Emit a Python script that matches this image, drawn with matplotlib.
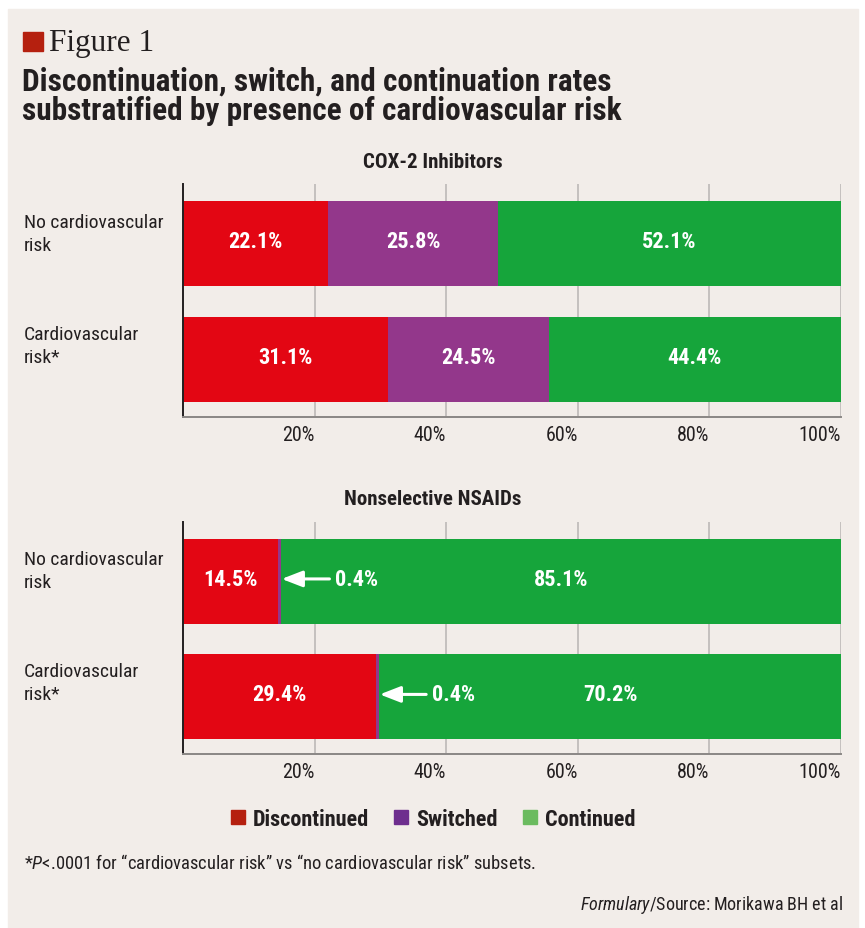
import matplotlib
matplotlib.use('Agg')
import matplotlib.pyplot as plt
from matplotlib.patches import Rectangle, Patch
from matplotlib import transforms

FONT = 'Roboto Condensed'
plt.rcParams['font.family'] = [FONT, 'DejaVu Sans']
plt.rcParams['mathtext.fontset'] = 'custom'
plt.rcParams['mathtext.rm'] = FONT
plt.rcParams['mathtext.it'] = FONT + ':italic'

# ---- data ----
groups = ['No cardiovascular\nrisk', 'Cardiovascular\nrisk*']
series = ['Discontinued', 'Switched', 'Continued']
cox2_disc = [22.1, 31.1]
cox2_sw = [25.8, 24.5]
cox2_cont = [52.1, 44.4]
nsaid_disc = [14.5, 29.4]
nsaid_sw = [0.4, 0.4]
nsaid_cont = [85.1, 70.2]
ticks = [20, 40, 60, 80, 100]

bar_colors = ['#e30613', '#93378b', '#16a53b']
legend_colors = ['#b5200f', '#6e2e8e', '#6bbb5f']
bg = '#f2ede9'
ink = '#231f20'

W, H = 865, 929
fig = plt.figure(figsize=(W / 100, H / 100), dpi=100, facecolor='white')
fig.patches.append(Rectangle((8 / W, 0), 850 / W, (H - 10) / H,
                             transform=fig.transFigure, color=bg, zorder=-10))


def px(x0, y_top, x1, y_bot):
    return [x0 / W, 1 - y_bot / H, (x1 - x0) / W, (y_bot - y_top) / H]


def draw_panel(rect, disc, sw, cont, title, arrow_text_x=None):
    ax = fig.add_axes(rect)
    ax.set_facecolor('none')
    y = [0, 1]
    h = 0.733
    left = [0, 0]
    segs = [disc, sw, cont]
    for vals, c in zip(segs, bar_colors):
        ax.barh(y, vals, left=left, height=h, color=c, zorder=2)
        left = [a + b for a, b in zip(left, vals)]
    # labels inside the segments, arrow for tiny ones
    for i in y:
        start = 0
        for k, vals in enumerate(segs):
            v = vals[i]
            if v >= 5:
                ax.text(start + v / 2, i - 0.02, f'{v:.1f}%', ha='center', va='center',
                        color='white', fontsize=16, fontweight='bold', zorder=3)
            elif arrow_text_x is not None:
                ax.annotate(f'{v:.1f}%', xy=(start + v / 2 + 0.3, i - 0.02),
                            xytext=(arrow_text_x[i], i - 0.02), ha='left', va='center',
                            color='white', fontsize=16, fontweight='bold', zorder=3,
                            arrowprops=dict(arrowstyle='-|>,head_length=0.9,head_width=0.35',
                                            color='white', lw=2.2, relpos=(0, 0.5),
                                            shrinkA=2, shrinkB=0, mutation_scale=14))
            start += v
    ax.set_xlim(0, 100)
    ax.set_ylim(1.496, -0.513)
    ax.set_xticks(ticks)
    ax.set_xticklabels([f'{t}%' for t in ticks], ha='right', fontsize=14.5, color=ink)
    ax.tick_params(axis='x', length=0, pad=6)
    ax.set_yticks([])
    for t in ticks:
        ax.axvline(t, color='#bcb9b7', lw=1.2, zorder=1)
    for s in ['top', 'right']:
        ax.spines[s].set_visible(False)
    ax.spines['left'].set_color(ink)
    ax.spines['left'].set_linewidth(1.4)
    ax.spines['bottom'].set_color('#8a8785')
    ax.spines['bottom'].set_linewidth(1.4)
    tr = transforms.blended_transform_factory(fig.transFigure, ax.transData)
    for i, g, off in zip(y, groups, [0.09, 0.12]):
        ax.text(24 / W, i - off, g, transform=tr, ha='left', va='center', fontsize=14,
                color=ink, linespacing=1.35)
    fig.text(433 / W, 1 - (title[1]) / H, title[0], ha='center', va='center',
             fontsize=15, fontweight='bold', color=ink)
    return ax


draw_panel(px(183, 185, 841, 418), cox2_disc, cox2_sw, cox2_cont, ('COX-2 Inhibitors', 163))
draw_panel(px(183, 523, 841, 755), nsaid_disc, nsaid_sw, nsaid_cont, ('Nonselective NSAIDs', 500),
           arrow_text_x=[23.1, 37.8])

# header
fig.patches.append(Rectangle((23 / W, 1 - 52 / H), 20 / W, 19 / H,
                             transform=fig.transFigure, color='#b5200f'))
fig.text(49 / W, 1 - 43 / H, 'Figure 1', family='Liberation Serif', fontsize=22.5,
         color=ink, ha='left', va='center')
fig.text(22 / W, 1 - 96 / H, 'Discontinuation, switch, and continuation rates\n'
         'substratified by presence of cardiovascular risk',
         fontsize=22.5, fontweight='bold', color=ink, ha='left', va='center', linespacing=0.98)

# legend
handles = [Patch(color=c) for c in legend_colors]
leg = fig.legend(handles, series, loc='center', bbox_to_anchor=(433 / W, 1 - 820 / H),
                 ncol=3, frameon=False, handlelength=0.62, handleheight=0.62,
                 handletextpad=0.35, columnspacing=1.15,
                 prop={'family': FONT, 'weight': 'bold', 'size': 16})
for t in leg.get_texts():
    t.set_color(ink)

# footnotes
fig.text(24 / W, 1 - 864 / H,
         '*$P$<.0001 for \u201ccardiovascular risk\u201d vs \u201cno cardiovascular risk\u201d subsets.',
         fontsize=13.3, color=ink, ha='left', va='center')
fig.text(843 / W, 1 - 905 / H, '$Formulary$/Source: Morikawa BH et al',
         fontsize=13, color=ink, ha='right', va='center')

fig.savefig('out.png', dpi=100, facecolor='white')
